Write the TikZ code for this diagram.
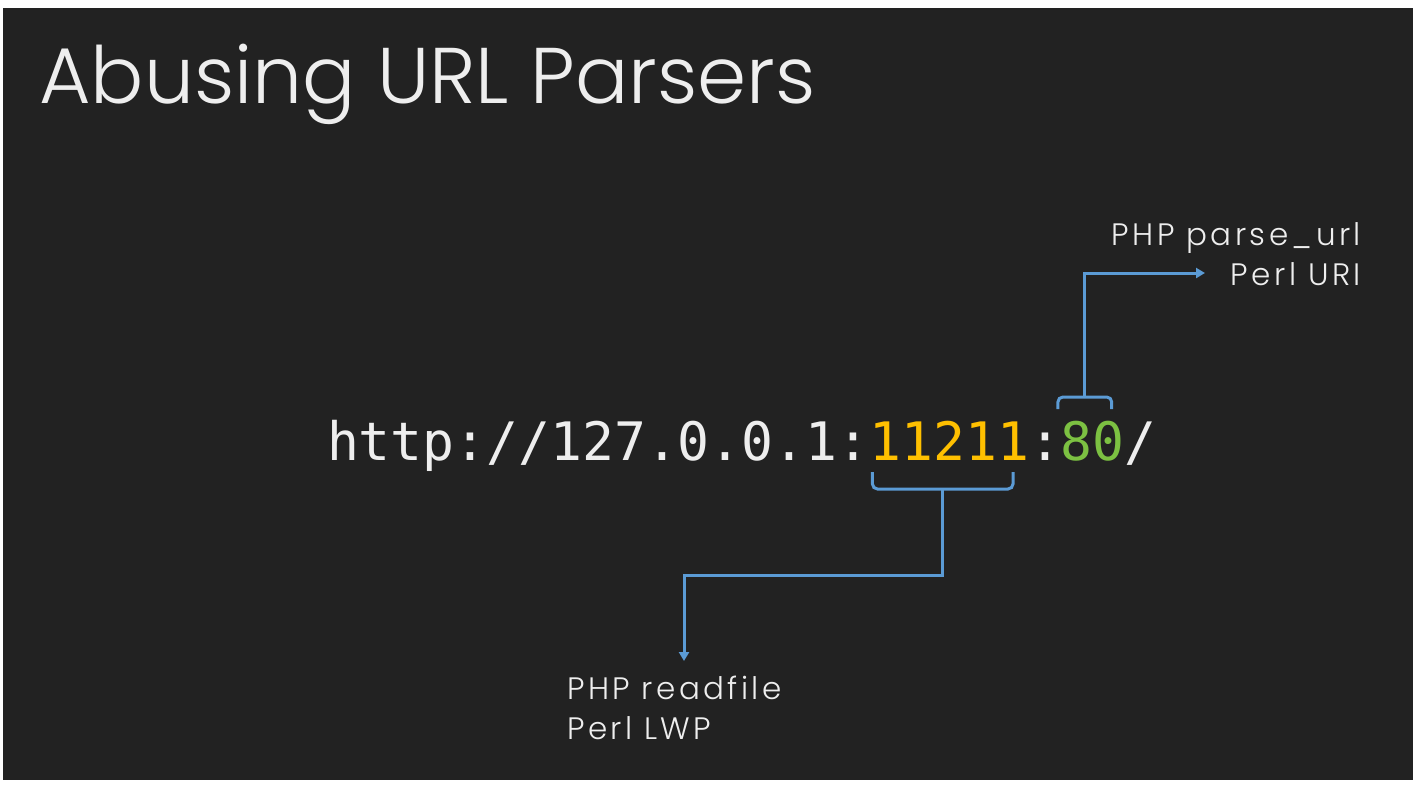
\documentclass[tikz,border=0pt]{standalone}
\usepackage{fontspec}
\setmainfont{Poppins}[UprightFont=* Light]
\newfontfamily\labelfont{Poppins}[UprightFont=* Light, LetterSpace=11]
\newfontfamily\codefont{DejaVu Sans Mono}
\usetikzlibrary{arrows.meta,calc}
\definecolor{slidebg}{HTML}{222222}
\definecolor{slidefg}{HTML}{EEEEEE}
\definecolor{portA}{HTML}{FFC000}
\definecolor{portB}{HTML}{7CC142}
\definecolor{link}{HTML}{5B9BD5}
\tikzset{
  urlpart/.style={inner sep=0pt, outer sep=0pt, anchor=base west,
    font=\codefont\fontsize{53}{60}\selectfont},
  label/.style={inner sep=0pt, text=slidefg, font=\labelfont\fontsize{31}{40}\selectfont},
  bracket/.style={draw=link, line width=3pt, rounded corners=5pt},
  pointer/.style={draw=link, line width=3pt, -{Triangle[width=10pt,length=9pt]}}
}
\begin{document}
\begin{tikzpicture}[x=1pt,y=-1pt]
\useasboundingbox (0,0) rectangle (1423,785);
\fill[white] (0,0) rectangle (1423,785);
\fill[slidebg] (3,8) rectangle (1413,780);

% title
\node[anchor=base west, inner sep=0pt, text=slidefg,
      font=\fontsize{79}{90}\selectfont] (title) at (39,103) {Abusing URL Parsers};

% the URL, split into parts so the brackets can find them
\node[urlpart, text=slidefg] (host) at (327,460) {http://127.0.0.1:};
\node[urlpart, text=portA] (p1) at (host.base east) {11211};
\node[urlpart, text=slidefg] (c2) at (p1.base east) {:};
\node[urlpart, text=portB] (p2) at (c2.base east) {80};
\node[urlpart, text=slidefg] (sl) at (p2.base east) {/};

% labels
\node[label, anchor=north west, align=left] (lo) at (567,676) {PHP readfile\\Perl LWP};
\node[label, anchor=north east, align=right] (hi) at (1361,222) {PHP parse\_url\\Perl URI};

% bracket under the first port
\coordinate (b1l) at ([xshift=3pt]p1.west |- 0,472);
\coordinate (b1r) at ([xshift=-16pt]p1.east |- 0,472);
\coordinate (b1m) at ($(b1l)!0.5!(b1r)$);
\draw[bracket] (b1l) |- (b1m |- 0,489) -| (b1r);
\coordinate (lotip) at (684,661);
\draw[pointer, rounded corners=0pt] (b1m |- 0,489) -- (b1m |- 0,575) -| (lotip);

% bracket over the second port
\coordinate (b2l) at ([xshift=-3pt]p2.west |- 0,409);
\coordinate (b2r) at ([xshift=-13pt]p2.east |- 0,409);
\coordinate (b2m) at ($(b2l)!0.5!(b2r)$);
\draw[bracket] (b2l) |- (b2m |- 0,397) -| (b2r);
\coordinate (hitip) at (1205,273);
\draw[pointer, rounded corners=0pt] (b2m |- 0,397) |- (hitip);
\end{tikzpicture}
\end{document}
